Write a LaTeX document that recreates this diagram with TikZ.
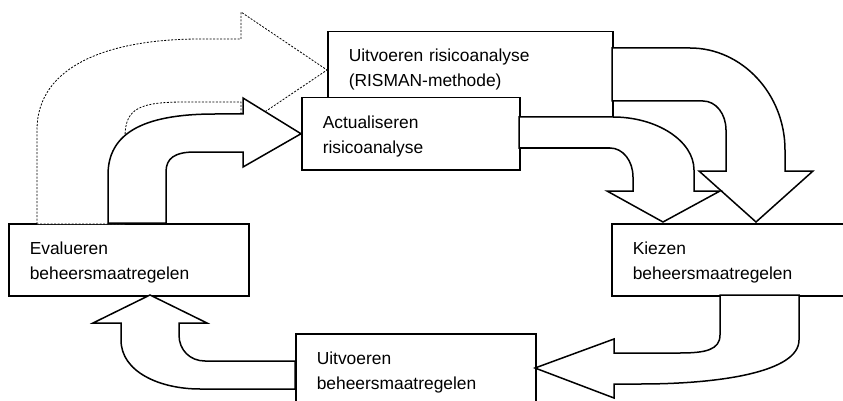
\documentclass[tikz,border=0pt]{standalone}
\usepackage{fontspec}
\setmainfont{Liberation Sans}
\usepackage{tikz}
\usetikzlibrary{positioning}

\tikzset{
  blok/.style={draw, line width=1.5pt, fill=white, anchor=north west, align=left,
    inner xsep=21pt, inner ysep=0pt, text width=198pt, text height=31pt, text depth=41pt,
    font=\fontsize{17.4}{25}\selectfont},
  pijl/.style={draw, fill=white, line width=1.5pt},
  stippelpijl/.style={draw, fill=white, line width=0.8pt, dash pattern=on 2pt off 1.5pt}
}

\begin{document}
\begin{tikzpicture}[x=1pt,y=-1pt]
% 1 unit = 1 pixel of the 843 x 401 frame, y runs downwards
\useasboundingbox[fill=white] (0,0) rectangle (843,401);

% Boxes
\node[blok, text width=243pt, text height=30pt, text depth=55pt] (risico) at (327,31)
  {Uitvoeren risicoanalyse\\(RISMAN-methode)};
\node[blok, text width=176pt] (actual) at (301,97) {Actualiseren\\risicoanalyse};
\node[blok] (evalu) at (8,223) {Evalueren\\beheersmaatregelen};
\node[blok] (kiezen) at (611,223) {Kiezen\\beheersmaatregelen};
\node[blok] (uitvoer) at (295,333) {Uitvoeren\\beheersmaatregelen};

% Dashed arrow: evalueren -> uitvoeren risicoanalyse
\path[stippelpijl] (37,224) -- (37,130) .. controls (37,65) and (110,39) .. (200,39)
  -- (241,39) -- (241,12) -- (327,70) -- (241,128) -- (241,102) -- (185,102)
  .. controls (140,102) and (125,108) .. (125,137) -- (125,224) -- cycle;

% Evalueren -> actualiseren
\path[pijl] (108,223) -- (108,175) .. controls (108,135) and (140,114) .. (215,114)
  -- (243,114) -- (243,98) -- (actual.west) -- (243,167) -- (243,152) -- (195,152)
  .. controls (175,152) and (166,158) .. (166,172) -- (166,223) -- cycle;

% Uitvoeren risicoanalyse -> kiezen
\path[pijl] (612,48) -- (690,48) .. controls (742,48) and (785,94) .. (785,150)
  -- (785,171) -- (813,171) -- (756,222) -- (699,171) -- (726,171) -- (726,130)
  .. controls (726,114) and (716,101) .. (703,101) -- (612,101) -- cycle;

% Actualiseren -> kiezen
\path[pijl] (519,117) -- (613,117) .. controls (657,117) and (694,141) .. (694,170)
  -- (694,191) -- (720,191) -- (663,222) -- (607,191) -- (633,191) -- (633,177)
  .. controls (633,161) and (623,148) .. (610,148) -- (519,148) -- cycle;

% Kiezen -> uitvoeren
\path[pijl] (720,295) -- (720,335) .. controls (720,350) and (705,353) .. (680,353)
  -- (614,353) -- (614,339) -- (535,368) -- (614,398) -- (614,384) -- (640,384)
  .. controls (720,384) and (799,372) .. (799,340) -- (799,295) -- cycle;

% Uitvoeren -> evalueren
\path[pijl] (295,361) -- (205,361) .. controls (190,361) and (179,350) .. (179,335)
  -- (179,323) -- (207,323) -- (150,295) -- (93,323) -- (121,323) -- (121,340)
  .. controls (121,372) and (160,389) .. (200,389) -- (295,389) -- cycle;
\end{tikzpicture}
\end{document}
